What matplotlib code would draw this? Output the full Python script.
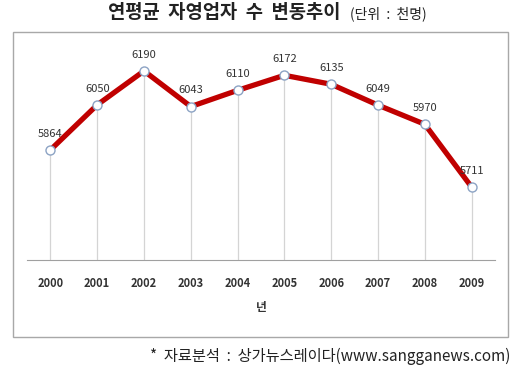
import matplotlib.pyplot as plt
from matplotlib.patches import Rectangle

plt.rcParams['font.family'] = ['Noto Sans CJK KR', 'DejaVu Sans']

# datos
years = ['2000', '2001', '2002', '2003', '2004', '2005', '2006', '2007', '2008', '2009']
values = [5864, 6050, 6190, 6043, 6110, 6172, 6135, 6049, 5970, 5711]

fig = plt.figure(figsize=(5.2, 3.74), dpi=100)
ax = fig.add_axes([27 / 520, (374 - 260) / 374, 468 / 520, (260 - 37) / 374])

x = list(range(len(years)))
ymin, ymax = 5410, 6330
ax.vlines(x, ymin, values, color='#d4d4d4', lw=0.9, zorder=1)
ax.plot(x, values, color='#c00000', lw=3.8, zorder=2,
        marker='o', ms=6.5, mfc='white', mec='#8ca3c4', mew=1.0)
for xi, v in zip(x, values):
    ax.annotate(str(v), (xi, v), xytext=(0, 8), textcoords='offset points',
                ha='center', va='bottom', fontsize=8, color='#333333')

ax.set_xlim(-0.5, len(years) - 0.5)
ax.set_ylim(ymin, ymax)
ax.set_xticks(x)
ax.set_xticklabels(years, fontsize=8, fontweight='bold', color='#333333')
ax.tick_params(axis='x', length=0, pad=12)
ax.set_yticks([])
for s in ['top', 'right', 'left']:
    ax.spines[s].set_visible(False)
ax.spines['bottom'].set_color('#a0a0a0')
ax.set_xlabel('년', fontsize=8.5, fontweight='bold', color='#333333', labelpad=8)

# marco exterior
fig.patches.append(Rectangle((13 / 520, 1 - 337 / 374), 495 / 520, 305 / 374,
                             transform=fig.transFigure, fill=False,
                             edgecolor='#a8a8a8', lw=1.0))

fig.text(340 / 520, 1 - 13 / 374, '연평균  자영업자  수  변동추이', ha='right', va='center',
         fontsize=13.5, fontweight='bold', color='#222222')
fig.text(350 / 520, 1 - 14 / 374, '(단위  :  천명)', ha='left', va='center',
         fontsize=10, color='#222222')
fig.text(510 / 520, 1 - 356 / 374, '*  자료분석  :  상가뉴스레이다(www.sangganews.com)',
         ha='right', va='center', fontsize=11, color='#222222')

fig.savefig('out.png', dpi=100)
